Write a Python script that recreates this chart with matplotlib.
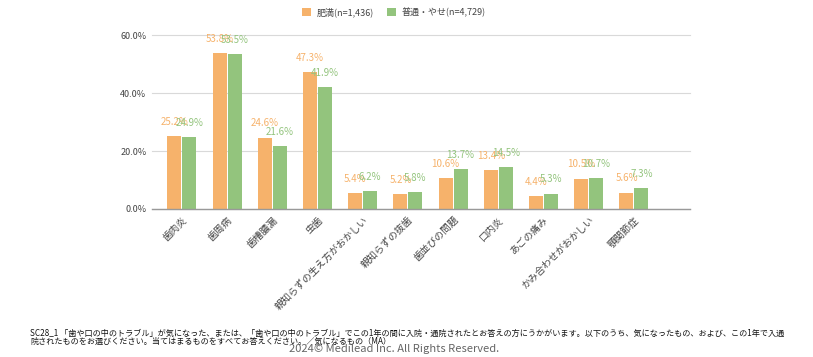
import numpy as np
import matplotlib.pyplot as plt

plt.rcParams['font.family'] = ['Noto Sans CJK JP', 'DejaVu Sans']

## Données
categories = ['歯肉炎', '歯周病', '歯槽膿漏', '虫歯', '親知らずの生え方がおかしい', '親知らずの抜歯',
              '歯並びの問題', '口内炎', 'あごの痛み', 'かみ合わせがおかしい', '顎関節症']
himan = [25.2, 53.8, 24.6, 47.3, 5.4, 5.2, 10.6, 13.4, 4.4, 10.5, 5.6]
futsu = [24.9, 53.5, 21.6, 41.9, 6.2, 5.8, 13.7, 14.5, 5.3, 10.7, 7.3]
yticks = [0, 20, 40, 60]
legend_labels = ['肥満(n=1,436)', '普通・やせ(n=4,729)']

c_orange = '#F6B26B'
c_green = '#93C47D'

## Figure
fig = plt.figure(figsize=(8.13, 3.57), dpi=100)
ax = fig.add_axes([152 / 813, 1 - 209 / 357, 538 / 813, 174 / 357])

x = np.arange(len(categories))
w = 0.31
b1 = ax.bar(x - w / 2 - 0.01, himan, w, color=c_orange, label=legend_labels[0])
b2 = ax.bar(x + w / 2 + 0.01, futsu, w, color=c_green, label=legend_labels[1])

# étiquettes des valeurs
for xi, v in zip(x, himan):
    ax.text(xi - w / 2 - 0.01, v + 3.2, f'{v:.1f}%', ha='center', va='bottom',
            fontsize=7, color=c_orange)
for xi, v in zip(x, futsu):
    ax.text(xi + w / 2 + 0.01, v + 3.2, f'{v:.1f}%', ha='center', va='bottom',
            fontsize=7, color=c_green)

ax.set_xlim(-0.66, 11.24)
ax.set_ylim(0, 60)
ax.set_yticks(yticks)
ax.set_yticklabels([f'{t:.1f}%' for t in yticks], fontsize=6.5, color='#444444')
ax.set_xticks(x)
ax.set_xticklabels(categories, rotation=45, ha='right', rotation_mode='anchor',
                   fontsize=7, color='#444444')
ax.tick_params(axis='both', length=0, pad=4)
ax.grid(axis='y', color='#d9d9d9', linewidth=0.8, clip_on=False)
ax.set_axisbelow(True)
for s in ['top', 'right', 'left']:
    ax.spines[s].set_visible(False)
ax.spines['bottom'].set_color('#999999')
ax.spines['bottom'].set_linewidth(1.0)

fig.legend(handles=[b1, b2], loc='center', bbox_to_anchor=(394 / 813, 1 - 12 / 357),
           ncol=2, frameon=False, fontsize=6.5, handlelength=1.0, handleheight=1.0,
           columnspacing=1.5, handletextpad=0.6, labelcolor='#444444')

# notes
fig.text(30 / 813, 1 - 333 / 357,
         'SC28_1 「歯や口の中のトラブル」が気になった、または、「歯や口の中のトラブル」でこの1年の間に入院・通院されたとお答えの方にうかがいます。以下のうち、気になったもの、および、この1年で入通',
         fontsize=5.85, va='center', color='#111111')
fig.text(30 / 813, 1 - 341 / 357,
         '院されたものをお選びください。当てはまるものをすべてお答えください。／気になるもの（MA）',
         fontsize=5.85, va='center', color='#111111')
fig.text(394 / 813, 1 - 349 / 357, '2024© Medilead Inc. All Rights Reserved.',
         fontsize=8, ha='center', va='center', color='#666666')

plt.savefig('out.png', dpi=100)
